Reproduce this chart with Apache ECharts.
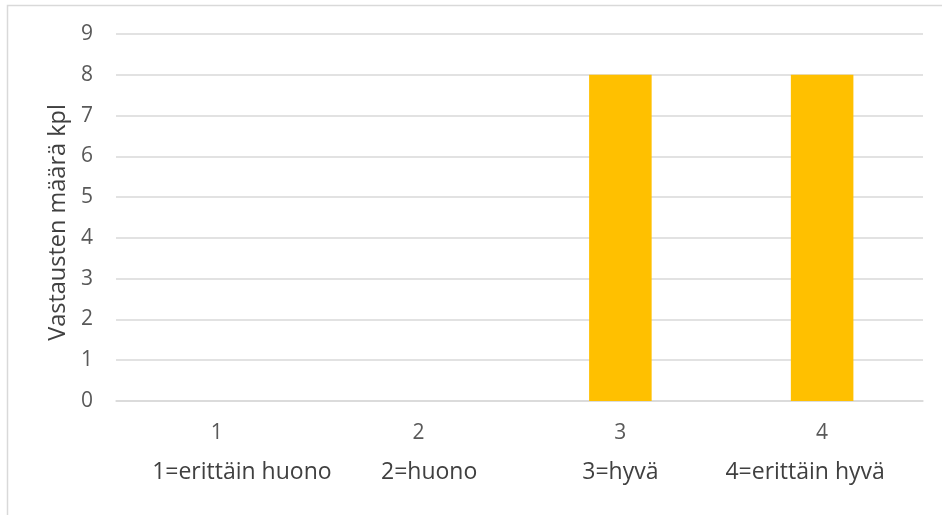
<!DOCTYPE html>
<html>
<head>
<meta charset="utf-8">
<script src="https://cdn.jsdelivr.net/npm/echarts@6/dist/echarts.min.js"></script>
<style>
  html, body { margin: 0; padding: 0; background: #fff; }
  #chart { width: 942px; height: 515px; }
</style>
</head>
<body>
<div id="chart"></div>
<script>
// Rating scale (1–4) and the number of answers given for each
const categories = ['1', '2', '3', '4'];
const descriptions = ['1=erittäin huono', '2=huono', '3=hyvä', '4=erittäin hyvä'];
const counts = [0, 0, 8, 8];
const yTicks = [0, 1, 2, 3, 4, 5, 6, 7, 8, 9];

const chart = echarts.init(document.getElementById('chart'));

// The caption row under the axis sits slightly off the category centres,
// so each caption gets its own horizontal padding.
const captionBase = { fontSize: 23, color: '#404040', lineHeight: 40, fontFamily: '"Open Sans", sans-serif' };
const captionStyles = {
  t0: Object.assign({}, captionBase, { padding: [0, 0, 0, 50] }),
  t1: Object.assign({}, captionBase, { padding: [0, 0, 0, 21] }),
  t2: Object.assign({}, captionBase),
  t3: Object.assign({}, captionBase, { padding: [0, 34, 0, 0] })
};

chart.setOption({
  animation: false,
  backgroundColor: '#ffffff',
  textStyle: { fontFamily: '"Open Sans", "DejaVu Sans", sans-serif' },
  graphic: [{
    type: 'rect',
    silent: true,
    shape: { x: 7.5, y: 5.5, width: 980, height: 560 },
    style: { fill: 'none', stroke: '#d9d9d9', lineWidth: 1.5 }
  }],
  grid: { left: 116, right: 19, top: 34, bottom: 114 },
  xAxis: {
    type: 'category',
    data: categories,
    axisLine: { show: true, lineStyle: { color: '#d9d9d9', width: 1.5 } },
    axisTick: { show: false },
    axisLabel: {
      margin: 13,
      formatter: function (value, idx) {
        return '{n|' + value + '}\n{t' + idx + '|' + descriptions[idx] + '}';
      },
      rich: Object.assign({
        n: { fontSize: 21, color: '#595959', lineHeight: 38, fontFamily: '"Open Sans", sans-serif' }
      }, captionStyles)
    }
  },
  yAxis: {
    type: 'value',
    min: yTicks[0],
    max: yTicks[yTicks.length - 1],
    interval: 1,
    name: 'Vastausten määrä kpl',
    nameLocation: 'middle',
    nameGap: 46,
    nameTextStyle: { fontSize: 23.5, color: '#404040', padding: [0, 10, 0, 0], fontFamily: '"Open Sans", sans-serif' },
    axisLine: { show: false },
    axisTick: { show: false },
    axisLabel: { margin: 23, fontSize: 21, color: '#595959', fontFamily: '"Open Sans", sans-serif' },
    splitLine: { lineStyle: { color: '#d9d9d9', width: 1.5 } }
  },
  series: [{
    type: 'bar',
    data: counts,
    barWidth: '31%',
    itemStyle: { color: '#FFC000' }
  }]
});
</script>
</body>
</html>
